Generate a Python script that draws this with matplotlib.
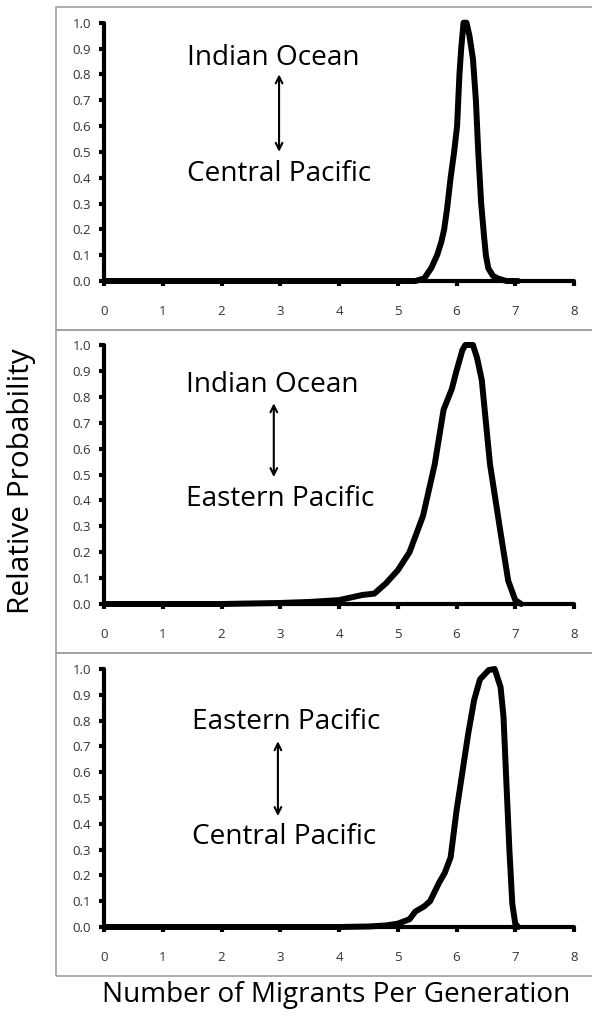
import matplotlib
matplotlib.use("Agg")
import matplotlib.pyplot as plt
from matplotlib.patches import Rectangle

plt.rcParams['font.family'] = ['Open Sans', 'DejaVu Sans']

# panel 1: Indian Ocean <-> Central Pacific
x1 = [0, 1, 2, 3, 4, 5, 5.3, 5.45, 5.57, 5.67, 5.74, 5.79, 5.84, 5.9, 5.96,
      6.01, 6.05, 6.08, 6.12, 6.17, 6.22, 6.28, 6.33, 6.37, 6.42, 6.47, 6.50,
      6.54, 6.62, 6.70, 6.85, 7.05]
y1 = [0, 0, 0, 0, 0, 0, 0, 0.01, 0.05, 0.1, 0.15, 0.2, 0.28, 0.4, 0.5,
      0.6, 0.8, 0.9, 1.0, 1.0, 0.95, 0.86, 0.7, 0.5, 0.3, 0.17, 0.1,
      0.05, 0.02, 0.01, 0.0, 0.0]

# panel 2: Indian Ocean <-> Eastern Pacific
x2 = [0, 1, 2, 2.5, 3, 3.5, 4.0, 4.2, 4.4, 4.6, 4.8, 5.0, 5.2, 5.43, 5.63,
      5.78, 5.92, 6.0, 6.1, 6.15, 6.28, 6.35, 6.43, 6.57, 6.74, 6.88, 7.0, 7.1]
y2 = [0, 0, 0, 0.002, 0.004, 0.008, 0.015, 0.025, 0.035, 0.04, 0.08, 0.13,
      0.2, 0.34, 0.54, 0.75, 0.83, 0.9, 0.98, 1.0, 1.0, 0.95, 0.865, 0.54,
      0.29, 0.09, 0.015, 0.0]

# panel 3: Eastern Pacific <-> Central Pacific
x3 = [0, 1, 2, 3, 4, 4.5, 4.8, 5.0, 5.2, 5.3, 5.45, 5.55, 5.7, 5.8, 5.9, 6.0,
      6.1, 6.2, 6.3, 6.4, 6.55, 6.65, 6.75, 6.8, 6.85, 6.9, 6.95, 7.0, 7.05]
y3 = [0, 0, 0, 0, 0, 0.002, 0.006, 0.013, 0.03, 0.06, 0.08, 0.10, 0.17,
      0.21, 0.27, 0.45, 0.60, 0.75, 0.88, 0.96, 0.996, 1.0, 0.93, 0.815,
      0.556, 0.30, 0.09, 0.013, 0.0]

labels_top = ["Indian Ocean", "Indian Ocean", "Eastern Pacific"]
labels_bot = ["Central Pacific", "Eastern Pacific", "Central Pacific"]

W, H = 592, 1016
panels = [
  dict(x=x1, y=y1, top=22.7, bot=281, box=(7, 330),
       tx=1.42, ty_top=0.862, ty_bot=0.415, ax_x=2.98, a_top=0.80, a_bot=0.50),
  dict(x=x2, y=y2, top=345, bot=604, box=(330, 653),
       tx=1.39, ty_top=0.845, ty_bot=0.405, ax_x=2.89, a_top=0.775, a_bot=0.49),
  dict(x=x3, y=y3, top=669, bot=927, box=(653, 976),
       tx=1.50, ty_top=0.795, ty_bot=0.35, ax_x=2.96, a_top=0.72, a_bot=0.43),
]

fig = plt.figure(figsize=(W / 100, H / 100), dpi=100)

for i, p in enumerate(panels):
  b0, b1 = p["box"]
  fig.patches.append(Rectangle((55.5 / W, 1 - b1 / H), 1.2, (b1 - b0) / H,
                               transform=fig.transFigure, fill=False,
                               edgecolor="#a0a0a0", linewidth=1.2))

  ax = fig.add_axes([104 / W, 1 - p["bot"] / H, 470 / W, (p["bot"] - p["top"]) / H])
  ax.plot(p["x"], p["y"], color="black", linewidth=4.3, clip_on=False,
          solid_joinstyle="round", solid_capstyle="round", zorder=5)
  ax.set_xlim(0, 8)
  ax.set_ylim(0, 1)
  ax.set_xticks(range(9))
  ax.set_yticks([k / 10 for k in range(11)])
  ax.set_yticklabels(["%.1f" % (k / 10) for k in range(11)])
  for s in ["top", "right"]:
    ax.spines[s].set_visible(False)
  for s in ["left", "bottom"]:
    ax.spines[s].set_linewidth(3)
    ax.spines[s].set_capstyle("round")
  ax.tick_params(direction="out", length=3.5, width=3, labelsize=9.5,
                 labelcolor="#333333")
  ax.tick_params(axis="y", pad=6)
  ax.tick_params(axis="x", pad=14)
  ax.patch.set_alpha(0)

  ax.text(p["tx"], p["ty_top"], labels_top[i], fontsize=20.2, ha="left", va="center")
  ax.text(p["tx"], p["ty_bot"], labels_bot[i], fontsize=20.2, ha="left", va="center")
  ax.annotate("", xy=(p["ax_x"], p["a_top"]), xytext=(p["ax_x"], p["a_bot"]),
              arrowprops=dict(arrowstyle="<->", color="black", lw=1.5,
                              shrinkA=0, shrinkB=0, mutation_scale=12))

fig.text(336.5 / W, 1 - 995 / H, "Number of Migrants Per Generation",
         fontsize=20.1, ha="center", va="center")
fig.text(22 / W, 1 - 481 / H, "Relative Probability", fontsize=21.5,
         rotation=90, ha="center", va="center")

fig.savefig("out.png", dpi=100)
